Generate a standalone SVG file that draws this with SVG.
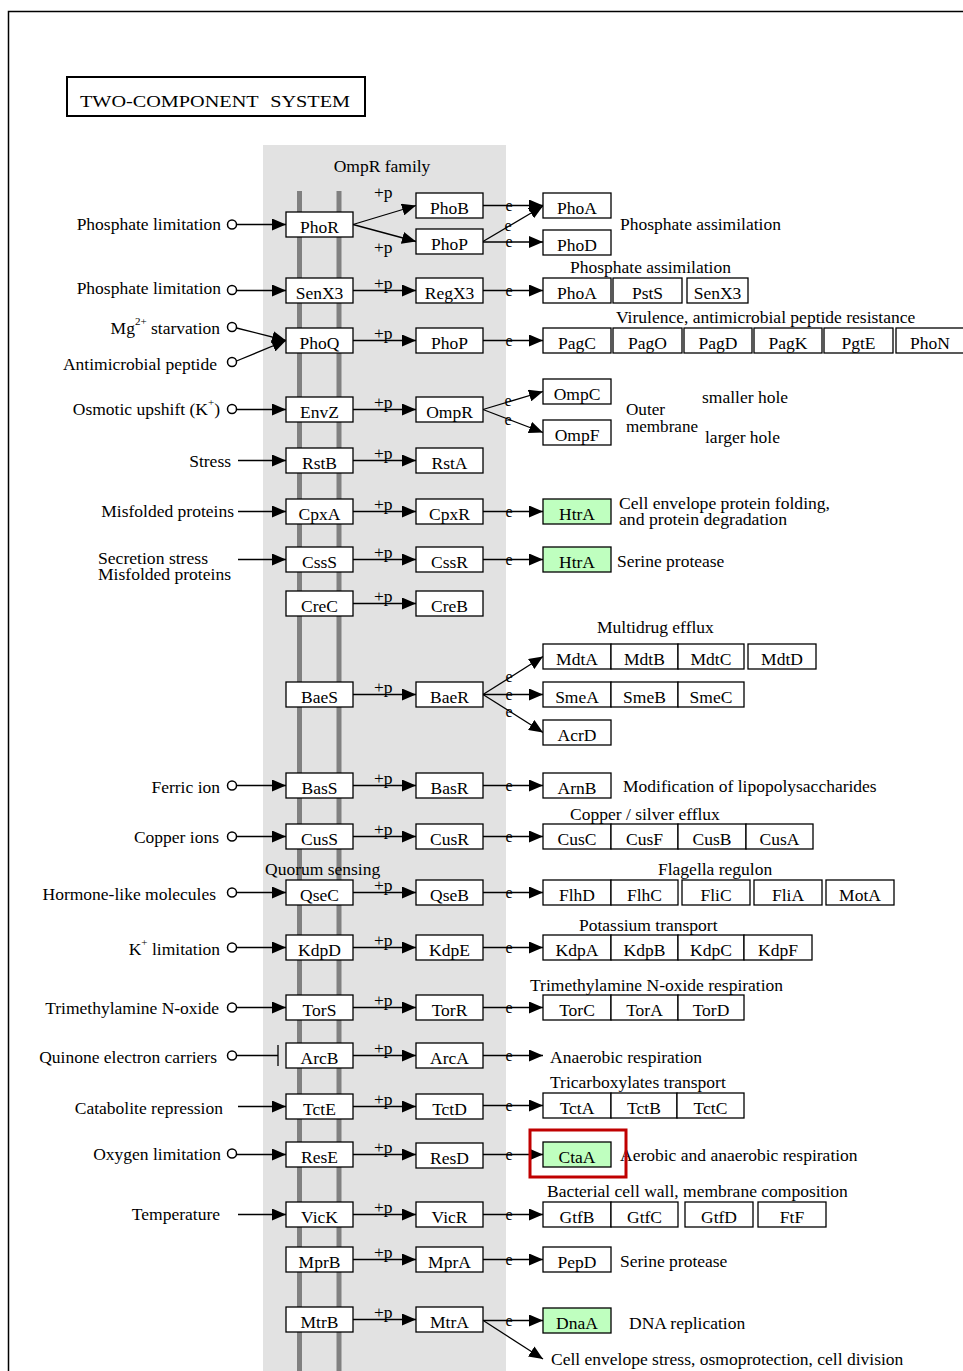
<svg xmlns="http://www.w3.org/2000/svg" width="963" height="1371" viewBox="0 0 963 1371">
<style>
text{font-family:"Liberation Serif","Times New Roman",serif;font-size:17.5px;fill:#000}
.n rect{fill:#fff;stroke:#000;stroke-width:1.3}
.g rect{fill:#bfffbf;stroke:#000;stroke-width:1.3}
.n text,.g text{text-anchor:middle}
.c line{stroke:#000;stroke-width:1.3;marker-end:url(#a)}
.c line.p{marker-end:none}
.c circle{fill:#fff;stroke:#000;stroke-width:1.5}
.e{font-size:16px;text-anchor:middle}
.r{text-anchor:end}
.s{font-size:11px}
.m{font-size:16px}
</style>
<defs>
<marker id="a" viewBox="0 0 14 12" refX="14" refY="6" markerWidth="14" markerHeight="12" markerUnits="userSpaceOnUse" orient="auto"><path d="M0,0 L14,6 L0,12 z"/></marker>
</defs>
<rect x="0" y="0" width="963" height="1371" fill="#fff"/>
<path d="M8.5,1371 V11.5 H963" fill="none" stroke="#000" stroke-width="1.5"/>
<g id="title"><rect x="67" y="77" width="298" height="39" fill="#fff" stroke="#000" stroke-width="2"/><text x="80" y="106.5" font-size="21" textLength="270" lengthAdjust="spacingAndGlyphs" word-spacing="6">TWO-COMPONENT SYSTEM</text></g>
<g id="panel"><rect x="263" y="145" width="243" height="1226" fill="#e2e2e2"/><rect x="297" y="191" width="5" height="1180" fill="#808080"/><rect x="336.5" y="191" width="5" height="1180" fill="#808080"/><text x="382" y="172" text-anchor="middle">OmpR family</text></g>

<g id="connectors" class="c">
<circle cx="232" cy="224.5" r="4.5"/><line x1="236.5" y1="224.5" x2="286" y2="224.5"/>
<circle cx="232" cy="290" r="4.5"/><line x1="236.5" y1="290.5" x2="286" y2="290.5"/>
<circle cx="232" cy="327" r="4.5"/><line x1="236.5" y1="328" x2="286" y2="340.5"/>
<circle cx="232" cy="362" r="4.5"/><line x1="236.5" y1="361" x2="286" y2="340.5"/>
<circle cx="232" cy="409" r="4.5"/><line x1="236.5" y1="409.5" x2="286" y2="409.5"/>
<line x1="238" y1="460.5" x2="286" y2="460.5"/>
<line x1="238" y1="511.5" x2="286" y2="511.5"/>
<line x1="238" y1="559.5" x2="286" y2="559.5"/>
<circle cx="232" cy="785.5" r="4.5"/><line x1="236.5" y1="785.5" x2="286" y2="785.5"/>
<circle cx="232" cy="836.5" r="4.5"/><line x1="236.5" y1="836.5" x2="286" y2="836.5"/>
<circle cx="232" cy="892.5" r="4.5"/><line x1="236.5" y1="892.5" x2="286" y2="892.5"/>
<circle cx="232" cy="947.5" r="4.5"/><line x1="236.5" y1="947.5" x2="286" y2="947.5"/>
<circle cx="232" cy="1007.5" r="4.5"/><line x1="236.5" y1="1007.5" x2="286" y2="1007.5"/>
<circle cx="232" cy="1055.5" r="4.5"/><line class="p" x1="236.5" y1="1055.5" x2="278" y2="1055.5"/><line class="p" x1="278" y1="1045" x2="278" y2="1066"/>
<line x1="238" y1="1106.5" x2="286" y2="1106.5"/>
<circle cx="232" cy="1153.5" r="4.5"/><line x1="236.5" y1="1154.5" x2="286" y2="1154.5"/>
<line x1="238" y1="1214.5" x2="286" y2="1214.5"/>
<line x1="353" y1="224.5" x2="416" y2="205.5"/><line x1="353" y1="224.5" x2="416" y2="241.5"/>
<line x1="353" y1="290.5" x2="416" y2="290.5"/>
<line x1="353" y1="340.5" x2="416" y2="340.5"/>
<line x1="353" y1="409.5" x2="416" y2="409.5"/>
<line x1="353" y1="460.5" x2="416" y2="460.5"/>
<line x1="353" y1="511.5" x2="416" y2="511.5"/>
<line x1="353" y1="559.5" x2="416" y2="559.5"/>
<line x1="353" y1="603.5" x2="416" y2="603.5"/>
<line x1="353" y1="694.5" x2="416" y2="694.5"/>
<line x1="353" y1="785.5" x2="416" y2="785.5"/>
<line x1="353" y1="836.5" x2="416" y2="836.5"/>
<line x1="353" y1="892.5" x2="416" y2="892.5"/>
<line x1="353" y1="947.5" x2="416" y2="947.5"/>
<line x1="353" y1="1007.5" x2="416" y2="1007.5"/>
<line x1="353" y1="1055.5" x2="416" y2="1055.5"/>
<line x1="353" y1="1106.5" x2="416" y2="1106.5"/>
<line x1="353" y1="1154.5" x2="416" y2="1154.5"/>
<line x1="353" y1="1214.5" x2="416" y2="1214.5"/>
<line x1="353" y1="1259.5" x2="416" y2="1259.5"/>
<line x1="353" y1="1319.5" x2="416" y2="1319.5"/>
<text x="374" y="198">+p</text><text x="374" y="253">+p</text>
<text x="374" y="289">+p</text><text x="374" y="339">+p</text><text x="374" y="408">+p</text><text x="374" y="459">+p</text><text x="374" y="510">+p</text><text x="374" y="558">+p</text><text x="374" y="602">+p</text><text x="374" y="693">+p</text><text x="374" y="784">+p</text><text x="374" y="835">+p</text><text x="374" y="891">+p</text><text x="374" y="946">+p</text><text x="374" y="1006">+p</text><text x="374" y="1054">+p</text><text x="374" y="1105">+p</text><text x="374" y="1153">+p</text><text x="374" y="1213">+p</text><text x="374" y="1258">+p</text><text x="374" y="1318">+p</text>
<line x1="483" y1="205.5" x2="543" y2="205.5"/><text class="e" x="509" y="210.5">e</text>
<line x1="483" y1="241.5" x2="543" y2="206"/><text class="e" x="508" y="231">e</text>
<line x1="483" y1="242" x2="543" y2="242"/><text class="e" x="509" y="247">e</text>
<line x1="483" y1="290.5" x2="543" y2="290.5"/><text class="e" x="509" y="295.5">e</text>
<line x1="483" y1="340.5" x2="543" y2="340.5"/><text class="e" x="509" y="345.5">e</text>
<line x1="483" y1="409.5" x2="543" y2="391.5"/><text class="e" x="508" y="406">e</text>
<line x1="483" y1="409.5" x2="543" y2="432.5"/><text class="e" x="508" y="425">e</text>
<line x1="483" y1="511.5" x2="543" y2="511.5"/><text class="e" x="509" y="516.5">e</text>
<line x1="483" y1="559.5" x2="543" y2="559.5"/><text class="e" x="509" y="564.5">e</text>
<line x1="483" y1="694.5" x2="543" y2="656.5"/><text class="e" x="509" y="682">e</text>
<line x1="483" y1="694.5" x2="543" y2="694.5"/><text class="e" x="509" y="699.5">e</text>
<line x1="483" y1="694.5" x2="543" y2="732.5"/><text class="e" x="509" y="717">e</text>
<line x1="483" y1="785.5" x2="543" y2="785.5"/><text class="e" x="509" y="790.5">e</text>
<line x1="483" y1="836.5" x2="543" y2="836.5"/><text class="e" x="509" y="841.5">e</text>
<line x1="483" y1="892.5" x2="543" y2="892.5"/><text class="e" x="509" y="897.5">e</text>
<line x1="483" y1="947.5" x2="543" y2="947.5"/><text class="e" x="509" y="952.5">e</text>
<line x1="483" y1="1007.5" x2="543" y2="1007.5"/><text class="e" x="509" y="1012.5">e</text>
<line x1="483" y1="1055.5" x2="543" y2="1055.5"/><text class="e" x="509" y="1060.5">e</text>
<line x1="483" y1="1105.5" x2="543" y2="1105.5"/><text class="e" x="509" y="1110.5">e</text>
<line x1="483" y1="1154.5" x2="543" y2="1154.5"/><text class="e" x="509" y="1159.5">e</text>
<line x1="483" y1="1214.5" x2="543" y2="1214.5"/><text class="e" x="509" y="1219.5">e</text>
<line x1="483" y1="1259.5" x2="543" y2="1259.5"/><text class="e" x="509" y="1264.5">e</text>
<line x1="483" y1="1320.5" x2="543" y2="1320.5"/><text class="e" x="509" y="1325.5">e</text>
<line x1="484" y1="1321" x2="543" y2="1359"/>
</g>

<g id="labels">
<text class="r" x="221" y="230">Phosphate limitation</text>
<text class="r" x="221" y="294">Phosphate limitation</text>
<text class="r" x="220" y="334">Mg<tspan class="s" dy="-9">2+</tspan><tspan dy="9"> starvation</tspan></text>
<text class="r" x="217" y="370">Antimicrobial peptide</text>
<text class="r" x="220" y="415">Osmotic upshift (K<tspan class="s" dy="-9">+</tspan><tspan dy="9">)</tspan></text>
<text class="r" x="231" y="467">Stress</text>
<text class="r" x="234" y="517">Misfolded proteins</text>
<text class="m" x="98" y="564" textLength="110" lengthAdjust="spacingAndGlyphs">Secretion stress</text>
<text class="m" x="98" y="580" textLength="133" lengthAdjust="spacingAndGlyphs">Misfolded proteins</text>
<text class="r" x="220" y="793">Ferric ion</text>
<text class="r" x="219" y="843">Copper ions</text>
<text x="265" y="875">Quorum sensing</text>
<text class="r" x="216" y="900">Hormone-like molecules</text>
<text class="r" x="220" y="955">K<tspan class="s" dy="-9">+</tspan><tspan dy="9"> limitation</tspan></text>
<text class="r" x="219" y="1014">Trimethylamine N-oxide</text>
<text class="r" x="217" y="1063">Quinone electron carriers</text>
<text class="r" x="223" y="1114">Catabolite repression</text>
<text class="r" x="221" y="1160">Oxygen limitation</text>
<text class="r" x="220" y="1220">Temperature</text>
<text x="620" y="230">Phosphate assimilation</text>
<text x="570" y="273">Phosphate assimilation</text>
<text x="616" y="323">Virulence, antimicrobial peptide resistance</text>
<text x="702" y="403">smaller hole</text>
<text class="m" x="626" y="415" textLength="39" lengthAdjust="spacingAndGlyphs">Outer</text>
<text class="m" x="626" y="432" textLength="72" lengthAdjust="spacingAndGlyphs">membrane</text>
<text x="705" y="443">larger hole</text>
<text class="m" x="619" y="509" textLength="211" lengthAdjust="spacingAndGlyphs">Cell envelope protein folding,</text>
<text class="m" x="619" y="525" textLength="168" lengthAdjust="spacingAndGlyphs">and protein degradation</text>
<text x="617" y="567">Serine protease</text>
<text x="597" y="633">Multidrug efflux</text>
<text x="623" y="792">Modification of lipopolysaccharides</text>
<text x="570" y="820">Copper / silver efflux</text>
<text x="658" y="875">Flagella regulon</text>
<text x="579" y="931">Potassium transport</text>
<text x="530" y="991">Trimethylamine N-oxide respiration</text>
<text x="550" y="1063">Anaerobic respiration</text>
<text x="550" y="1088">Tricarboxylates transport</text>
<text x="620" y="1161">Aerobic and anaerobic respiration</text>
<text x="547" y="1197">Bacterial cell wall, membrane composition</text>
<text x="620" y="1267">Serine protease</text>
<text x="629" y="1329">DNA replication</text>
<text x="551" y="1365">Cell envelope stress, osmoprotection, cell division</text>
</g>

<g id="PhoR" class="n"><rect x="286" y="212" width="67" height="25"/><text x="319.5" y="232.5">PhoR</text></g>
<g id="SenX3" class="n"><rect x="286" y="278" width="67" height="25"/><text x="319.5" y="298.5">SenX3</text></g>
<g id="PhoQ" class="n"><rect x="286" y="328" width="67" height="25"/><text x="319.5" y="348.5">PhoQ</text></g>
<g id="EnvZ" class="n"><rect x="286" y="397" width="67" height="25"/><text x="319.5" y="417.5">EnvZ</text></g>
<g id="RstB" class="n"><rect x="286" y="448" width="67" height="25"/><text x="319.5" y="468.5">RstB</text></g>
<g id="CpxA" class="n"><rect x="286" y="499" width="67" height="25"/><text x="319.5" y="519.5">CpxA</text></g>
<g id="CssS" class="n"><rect x="286" y="547" width="67" height="25"/><text x="319.5" y="567.5">CssS</text></g>
<g id="CreC" class="n"><rect x="286" y="591" width="67" height="25"/><text x="319.5" y="611.5">CreC</text></g>
<g id="BaeS" class="n"><rect x="286" y="682" width="67" height="25"/><text x="319.5" y="702.5">BaeS</text></g>
<g id="BasS" class="n"><rect x="286" y="773" width="67" height="25"/><text x="319.5" y="793.5">BasS</text></g>
<g id="CusS" class="n"><rect x="286" y="824" width="67" height="25"/><text x="319.5" y="844.5">CusS</text></g>
<g id="QseC" class="n"><rect x="286" y="880" width="67" height="25"/><text x="319.5" y="900.5">QseC</text></g>
<g id="KdpD" class="n"><rect x="286" y="935" width="67" height="25"/><text x="319.5" y="955.5">KdpD</text></g>
<g id="TorS" class="n"><rect x="286" y="995" width="67" height="25"/><text x="319.5" y="1015.5">TorS</text></g>
<g id="ArcB" class="n"><rect x="286" y="1043" width="67" height="25"/><text x="319.5" y="1063.5">ArcB</text></g>
<g id="TctE" class="n"><rect x="286" y="1094" width="67" height="25"/><text x="319.5" y="1114.5">TctE</text></g>
<g id="ResE" class="n"><rect x="286" y="1142" width="67" height="25"/><text x="319.5" y="1162.5">ResE</text></g>
<g id="VicK" class="n"><rect x="286" y="1202" width="67" height="25"/><text x="319.5" y="1222.5">VicK</text></g>
<g id="MprB" class="n"><rect x="286" y="1247" width="67" height="25"/><text x="319.5" y="1267.5">MprB</text></g>
<g id="MtrB" class="n"><rect x="286" y="1307" width="67" height="25"/><text x="319.5" y="1327.5">MtrB</text></g>

<g id="PhoB" class="n"><rect x="416" y="193" width="67" height="25"/><text x="449.5" y="213.5">PhoB</text></g>
<g id="PhoP-1" class="n"><rect x="416" y="229" width="67" height="25"/><text x="449.5" y="249.5">PhoP</text></g>
<g id="RegX3" class="n"><rect x="416" y="278" width="67" height="25"/><text x="449.5" y="298.5">RegX3</text></g>
<g id="PhoP-2" class="n"><rect x="416" y="328" width="67" height="25"/><text x="449.5" y="348.5">PhoP</text></g>
<g id="OmpR" class="n"><rect x="416" y="397" width="67" height="25"/><text x="449.5" y="417.5">OmpR</text></g>
<g id="RstA" class="n"><rect x="416" y="448" width="67" height="25"/><text x="449.5" y="468.5">RstA</text></g>
<g id="CpxR" class="n"><rect x="416" y="499" width="67" height="25"/><text x="449.5" y="519.5">CpxR</text></g>
<g id="CssR" class="n"><rect x="416" y="547" width="67" height="25"/><text x="449.5" y="567.5">CssR</text></g>
<g id="CreB" class="n"><rect x="416" y="591" width="67" height="25"/><text x="449.5" y="611.5">CreB</text></g>
<g id="BaeR" class="n"><rect x="416" y="682" width="67" height="25"/><text x="449.5" y="702.5">BaeR</text></g>
<g id="BasR" class="n"><rect x="416" y="773" width="67" height="25"/><text x="449.5" y="793.5">BasR</text></g>
<g id="CusR" class="n"><rect x="416" y="824" width="67" height="25"/><text x="449.5" y="844.5">CusR</text></g>
<g id="QseB" class="n"><rect x="416" y="880" width="67" height="25"/><text x="449.5" y="900.5">QseB</text></g>
<g id="KdpE" class="n"><rect x="416" y="935" width="67" height="25"/><text x="449.5" y="955.5">KdpE</text></g>
<g id="TorR" class="n"><rect x="416" y="995" width="67" height="25"/><text x="449.5" y="1015.5">TorR</text></g>
<g id="ArcA" class="n"><rect x="416" y="1043" width="67" height="25"/><text x="449.5" y="1063.5">ArcA</text></g>
<g id="TctD" class="n"><rect x="416" y="1094" width="67" height="25"/><text x="449.5" y="1114.5">TctD</text></g>
<g id="ResD" class="n"><rect x="416" y="1143" width="67" height="25"/><text x="449.5" y="1163.5">ResD</text></g>
<g id="VicR" class="n"><rect x="416" y="1202" width="67" height="25"/><text x="449.5" y="1222.5">VicR</text></g>
<g id="MprA" class="n"><rect x="416" y="1247" width="67" height="25"/><text x="449.5" y="1267.5">MprA</text></g>
<g id="MtrA" class="n"><rect x="416" y="1307" width="67" height="25"/><text x="449.5" y="1327.5">MtrA</text></g>

<g id="PhoA-1" class="n"><rect x="543" y="193" width="68" height="25"/><text x="577" y="213.5">PhoA</text></g>
<g id="PhoD" class="n"><rect x="543" y="230" width="68" height="25"/><text x="577" y="250.5">PhoD</text></g>
<g id="PhoA-2" class="n"><rect x="543" y="278" width="68" height="25"/><text x="577" y="298.5">PhoA</text></g>
<g id="PstS" class="n"><rect x="613" y="278" width="69" height="25"/><text x="647.5" y="298.5">PstS</text></g>
<g id="SenX3-2" class="n"><rect x="687" y="278" width="61" height="25"/><text x="717.5" y="298.5">SenX3</text></g>
<g id="PagC" class="n"><rect x="543" y="328" width="68" height="25"/><text x="577" y="348.5">PagC</text></g>
<g id="PagO" class="n"><rect x="613" y="328" width="69" height="25"/><text x="647.5" y="348.5">PagO</text></g>
<g id="PagD" class="n"><rect x="684" y="328" width="68" height="25"/><text x="718" y="348.5">PagD</text></g>
<g id="PagK" class="n"><rect x="754" y="328" width="68" height="25"/><text x="788" y="348.5">PagK</text></g>
<g id="PgtE" class="n"><rect x="824" y="328" width="69" height="25"/><text x="858.5" y="348.5">PgtE</text></g>
<g id="PhoN" class="n"><rect x="896" y="328" width="68" height="25"/><text x="930" y="348.5">PhoN</text></g>
<g id="OmpC" class="n"><rect x="543" y="379" width="68" height="25"/><text x="577" y="399.5">OmpC</text></g>
<g id="OmpF" class="n"><rect x="543" y="420" width="68" height="25"/><text x="577" y="440.5">OmpF</text></g>
<g id="HtrA-1" class="g"><rect x="543" y="499" width="68" height="25"/><text x="577" y="519.5">HtrA</text></g>
<g id="HtrA-2" class="g"><rect x="543" y="547" width="68" height="25"/><text x="577" y="567.5">HtrA</text></g>
<g id="MdtA" class="n"><rect x="543" y="644" width="68" height="25"/><text x="577" y="664.5">MdtA</text></g>
<g id="MdtB" class="n"><rect x="611" y="644" width="67" height="25"/><text x="644.5" y="664.5">MdtB</text></g>
<g id="MdtC" class="n"><rect x="678" y="644" width="66" height="25"/><text x="711" y="664.5">MdtC</text></g>
<g id="MdtD" class="n"><rect x="748" y="644" width="68" height="25"/><text x="782" y="664.5">MdtD</text></g>
<g id="SmeA" class="n"><rect x="543" y="682" width="68" height="25"/><text x="577" y="702.5">SmeA</text></g>
<g id="SmeB" class="n"><rect x="611" y="682" width="67" height="25"/><text x="644.5" y="702.5">SmeB</text></g>
<g id="SmeC" class="n"><rect x="678" y="682" width="66" height="25"/><text x="711" y="702.5">SmeC</text></g>
<g id="AcrD" class="n"><rect x="543" y="720" width="68" height="25"/><text x="577" y="740.5">AcrD</text></g>
<g id="ArnB" class="n"><rect x="543" y="773" width="68" height="25"/><text x="577" y="793.5">ArnB</text></g>
<g id="CusC" class="n"><rect x="543" y="824" width="68" height="25"/><text x="577" y="844.5">CusC</text></g>
<g id="CusF" class="n"><rect x="611" y="824" width="67" height="25"/><text x="644.5" y="844.5">CusF</text></g>
<g id="CusB" class="n"><rect x="678" y="824" width="68" height="25"/><text x="712" y="844.5">CusB</text></g>
<g id="CusA" class="n"><rect x="746" y="824" width="67" height="25"/><text x="779.5" y="844.5">CusA</text></g>
<g id="FlhD" class="n"><rect x="543" y="880" width="68" height="25"/><text x="577" y="900.5">FlhD</text></g>
<g id="FlhC" class="n"><rect x="611" y="880" width="67" height="25"/><text x="644.5" y="900.5">FlhC</text></g>
<g id="FliC" class="n"><rect x="682" y="880" width="68" height="25"/><text x="716" y="900.5">FliC</text></g>
<g id="FliA" class="n"><rect x="754" y="880" width="68" height="25"/><text x="788" y="900.5">FliA</text></g>
<g id="MotA" class="n"><rect x="826" y="880" width="68" height="25"/><text x="860" y="900.5">MotA</text></g>
<g id="KdpA" class="n"><rect x="543" y="935" width="68" height="25"/><text x="577" y="955.5">KdpA</text></g>
<g id="KdpB" class="n"><rect x="611" y="935" width="67" height="25"/><text x="644.5" y="955.5">KdpB</text></g>
<g id="KdpC" class="n"><rect x="678" y="935" width="66" height="25"/><text x="711" y="955.5">KdpC</text></g>
<g id="KdpF" class="n"><rect x="744" y="935" width="68" height="25"/><text x="778" y="955.5">KdpF</text></g>
<g id="TorC" class="n"><rect x="543" y="995" width="68" height="25"/><text x="577" y="1015.5">TorC</text></g>
<g id="TorA" class="n"><rect x="611" y="995" width="67" height="25"/><text x="644.5" y="1015.5">TorA</text></g>
<g id="TorD" class="n"><rect x="678" y="995" width="66" height="25"/><text x="711" y="1015.5">TorD</text></g>
<g id="TctA" class="n"><rect x="543" y="1093" width="68" height="25"/><text x="577" y="1113.5">TctA</text></g>
<g id="TctB" class="n"><rect x="611" y="1093" width="66" height="25"/><text x="644" y="1113.5">TctB</text></g>
<g id="TctC" class="n"><rect x="677" y="1093" width="67" height="25"/><text x="710.5" y="1113.5">TctC</text></g>
<g id="CtaA" class="g"><rect x="543" y="1142" width="68" height="25"/><text x="577" y="1162.5">CtaA</text></g>
<g id="GtfB" class="n"><rect x="543" y="1202" width="68" height="25"/><text x="577" y="1222.5">GtfB</text></g>
<g id="GtfC" class="n"><rect x="611" y="1202" width="67" height="25"/><text x="644.5" y="1222.5">GtfC</text></g>
<g id="GtfD" class="n"><rect x="685" y="1202" width="68" height="25"/><text x="719" y="1222.5">GtfD</text></g>
<g id="FtF" class="n"><rect x="758" y="1202" width="68" height="25"/><text x="792" y="1222.5">FtF</text></g>
<g id="PepD" class="n"><rect x="543" y="1247" width="68" height="25"/><text x="577" y="1267.5">PepD</text></g>
<g id="DnaA" class="g"><rect x="543" y="1308" width="68" height="25"/><text x="577" y="1328.5">DnaA</text></g>

<g id="highlight"><rect x="530" y="1130" width="96" height="47" fill="none" stroke="#c00000" stroke-width="3"/></g>
</svg>
